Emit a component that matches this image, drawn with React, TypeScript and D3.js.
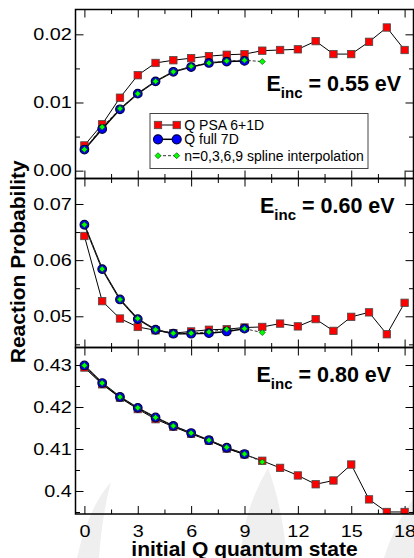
import React, { useEffect, useRef } from "react";
import * as d3 from "d3";

// initial Q quantum states
const statesPSA = [0, 1, 2, 3, 4, 5, 6, 7, 8, 9, 10, 11, 12, 13, 14, 15, 16, 17, 18];
const statesFull = [0, 1, 2, 3, 4, 5, 6, 7, 8, 9];
const statesSpline = [0, 1, 2, 3, 4, 5, 6, 7, 8, 9, 10];

// E_inc = 0.55 eV
const psa055 = [0.0037, 0.0068, 0.0107, 0.014, 0.0158, 0.0162, 0.0165, 0.0168, 0.017, 0.0171, 0.0176, 0.0177, 0.0178, 0.019, 0.0171, 0.0171, 0.0189, 0.021, 0.0177];
const full055 = [0.0031, 0.0061, 0.009, 0.0113, 0.0131, 0.0145, 0.0152, 0.0158, 0.016, 0.0161];
const spline055 = [0.0031, 0.0064, 0.0091, 0.0113, 0.0131, 0.0145, 0.0153, 0.0158, 0.0161, 0.0162, 0.016];

// E_inc = 0.60 eV
const psa060 = [0.0643, 0.0527, 0.0496, 0.0481, 0.0475, 0.047, 0.0473, 0.0476, 0.0477, 0.048, 0.0481, 0.0487, 0.0482, 0.0495, 0.0474, 0.0499, 0.0507, 0.0468, 0.0524];
const full060 = [0.0663, 0.0584, 0.053, 0.0495, 0.0476, 0.0469, 0.0469, 0.047, 0.0473, 0.0478];
const spline060 = [0.0663, 0.0584, 0.053, 0.0496, 0.0476, 0.047, 0.047, 0.0472, 0.0477, 0.0478, 0.0471];

// E_inc = 0.80 eV
const psa080 = [0.4294, 0.4254, 0.4222, 0.4195, 0.4171, 0.4153, 0.4136, 0.412, 0.4101, 0.4087, 0.4072, 0.4055, 0.4037, 0.4016, 0.4025, 0.4063, 0.398, 0.395, 0.395];
const full080 = [0.4299, 0.4257, 0.4224, 0.4198, 0.4175, 0.4155, 0.4138, 0.4121, 0.4103, 0.4088];
const spline080 = [0.4299, 0.4257, 0.4224, 0.4198, 0.4175, 0.4155, 0.4138, 0.4121, 0.4104, 0.4088, 0.4069];

// tick values and labels
const xTicks = [0, 3, 6, 9, 12, 15, 18];
const xTickLabels = ["0", "3", "6", "9", "12", "15", "18"];
const xMinor = [1.5, 4.5, 7.5, 10.5, 13.5, 16.5];

const yTicks055 = [0, 0.01, 0.02];
const yLabels055 = ["0.00", "0.01", "0.02"];
const yMinor055 = [0.005, 0.015];
const yTicks060 = [0.05, 0.06, 0.07];
const yLabels060 = ["0.05", "0.06", "0.07"];
const yMinor060 = [0.045, 0.055, 0.065];
const yTicks080 = [0.4, 0.41, 0.42, 0.43];
const yLabels080 = ["0.4", "0.41", "0.42", "0.43"];
const yMinor080 = [0.395, 0.405, 0.415, 0.425];

const energies = ["0.55", "0.60", "0.80"];
const legendLabels = ["Q PSA 6+1D", "Q full 7D", "n=0,3,6,9 spline interpolation"];

const panels = [
  { psa: psa055, full: full055, spline: spline055, domain: [-0.00115, 0.02364], ticks: yTicks055, labels: yLabels055, minor: yMinor055, energy: energies[0], ex: 266.5, ey: 90.7 },
  { psa: psa060, full: full060, spline: spline060, domain: [0.04444, 0.07454], ticks: yTicks060, labels: yLabels060, minor: yMinor060, energy: energies[1], ex: 260, ey: 213.3 },
  { psa: psa080, full: full080, spline: spline080, domain: [0.39452, 0.43417], ticks: yTicks080, labels: yLabels080, minor: yMinor080, energy: energies[2], ex: 256.5, ey: 381.7 },
];

const W = 414;
const H = 558;
const left = 75.5;
const right = 413.5;
const edges = [9.5, 178.5, 347.5, 514];
const FONT = "'Liberation Sans', Arial, Helvetica, sans-serif";

const diamond = (s: number) => `M0,${-s}L${s},0L0,${s}L${-s},0Z`;

export default function App() {
  const svgRef = useRef<SVGSVGElement>(null);

  useEffect(() => {
    const svg = d3.select(svgRef.current);
    svg.selectAll("*").remove();

    const x = d3.scaleLinear().domain([-0.5, 18.5]).range([left, right]);
    const defs = svg.append("defs");

    // faint watermark shapes behind the plot
    const wm = svg.append("g").attr("fill", "#efefef");
    wm.append("path").attr("d", "M111,482 Q88,508 77,558 L99,558 Q102,515 111,482 Z");
    wm.append("path").attr("d", "M268,468 Q244,508 240,558 L287,558 Q282,505 268,468 Z");
    wm.append("path").attr("d", "M414,498 Q394,525 384,558 L414,558 Z");

    const styleAxis = (g: any, labels: boolean) => {
      g.select(".domain").remove();
      g.selectAll(".tick line").attr("stroke", "#000").attr("stroke-width", 1);
      if (labels) {
        g.selectAll("text")
          .attr("font-size", 16.5)
          .attr("font-family", FONT)
          .attr("fill", "#000")
          .attr("transform", "scale(1.2,1)");
      } else {
        g.selectAll("text").remove();
      }
    };

    panels.forEach((p, i) => {
      const top = edges[i];
      const bottom = edges[i + 1];
      const y = d3.scaleLinear().domain(p.domain).range([bottom, top]);
      const g = svg.append("g");

      // ticks, all four sides, pointing in
      g.append("g")
        .call(d3.axisLeft(y).tickValues(p.ticks).tickFormat((d, k) => p.labels[k]).tickSize(-8).tickPadding(3.2))
        .attr("transform", `translate(${left},0)`)
        .call((a) => styleAxis(a, true));
      g.append("g")
        .call(d3.axisLeft(y).tickValues(p.minor).tickSize(-4.5))
        .attr("transform", `translate(${left},0)`)
        .call((a) => styleAxis(a, false));
      g.append("g")
        .call(d3.axisRight(y).tickValues(p.ticks).tickSize(-8))
        .attr("transform", `translate(${right},0)`)
        .call((a) => styleAxis(a, false));
      g.append("g")
        .call(d3.axisRight(y).tickValues(p.minor).tickSize(-4.5))
        .attr("transform", `translate(${right},0)`)
        .call((a) => styleAxis(a, false));

      const last = i === panels.length - 1;
      g.append("g")
        .call(d3.axisBottom(x).tickValues(xTicks).tickFormat((d, k) => xTickLabels[k]).tickSize(-8).tickPadding(11))
        .attr("transform", `translate(0,${bottom})`)
        .call((a) => styleAxis(a, last));
      g.append("g")
        .call(d3.axisBottom(x).tickValues(xMinor).tickSize(-4.5))
        .attr("transform", `translate(0,${bottom})`)
        .call((a) => styleAxis(a, false));
      g.append("g")
        .call(d3.axisTop(x).tickValues(xTicks).tickSize(-8))
        .attr("transform", `translate(0,${top})`)
        .call((a) => styleAxis(a, false));
      g.append("g")
        .call(d3.axisTop(x).tickValues(xMinor).tickSize(-4.5))
        .attr("transform", `translate(0,${top})`)
        .call((a) => styleAxis(a, false));

      // data
      const clipId = `clip-${i}`;
      defs.append("clipPath").attr("id", clipId)
        .append("rect").attr("x", left).attr("y", top).attr("width", right - left).attr("height", bottom - top);
      const plot = g.append("g").attr("clip-path", `url(#${clipId})`);

      const line = d3.line<[number, number]>().x((d) => x(d[0])).y((d) => y(d[1]));
      const psaPts = statesPSA.map((s, k) => [s, p.psa[k]] as [number, number]);
      const fullPts = statesFull.map((s, k) => [s, p.full[k]] as [number, number]);
      const splPts = statesSpline.map((s, k) => [s, p.spline[k]] as [number, number]);

      plot.append("path").attr("d", line(psaPts)).attr("fill", "none").attr("stroke", "#000").attr("stroke-width", 1);
      plot.selectAll(".sq").data(psaPts).join("rect")
        .attr("x", (d) => x(d[0]) - 3.7).attr("y", (d) => y(d[1]) - 3.7)
        .attr("width", 7.4).attr("height", 7.4)
        .attr("fill", "#ff0000").attr("stroke", "#4a4a4a").attr("stroke-width", 0.8);

      plot.append("path").attr("d", line(fullPts)).attr("fill", "none").attr("stroke", "#000").attr("stroke-width", 1.5);
      plot.selectAll(".ci").data(fullPts).join("circle")
        .attr("cx", (d) => x(d[0])).attr("cy", (d) => y(d[1])).attr("r", 4.3)
        .attr("fill", "#0000ff").attr("stroke", "#000044").attr("stroke-width", 1.2);

      plot.append("path").attr("d", line(splPts)).attr("fill", "none").attr("stroke", "#333")
        .attr("stroke-width", 1).attr("stroke-dasharray", "3,2");
      plot.selectAll(".di").data(splPts).join("path")
        .attr("d", diamond(3))
        .attr("transform", (d) => `translate(${x(d[0])},${y(d[1])})`)
        .attr("fill", "#00ff00").attr("stroke", "#005500").attr("stroke-width", 0.7);

      // frame
      g.append("rect").attr("x", left).attr("y", top).attr("width", right - left).attr("height", bottom - top)
        .attr("fill", "none").attr("stroke", "#000").attr("stroke-width", 1.5);

      // energy label
      const t = g.append("text").attr("x", p.ex).attr("y", p.ey)
        .attr("font-family", FONT).attr("font-weight", "bold").attr("font-size", 21.5).attr("fill", "#000");
      t.append("tspan").text("E");
      t.append("tspan").attr("font-size", 15).attr("dy", 7).text("inc");
      t.append("tspan").attr("dy", -7).text(` = ${p.energy} eV`);
    });

    // legend
    const lg = svg.append("g");
    lg.append("rect").attr("x", 150).attr("y", 113.5).attr("width", 218).attr("height", 55)
      .attr("fill", "#fff").attr("stroke", "#444").attr("stroke-width", 1);
    const rows = [125, 139.3, 155.7];
    const lx0 = 158;
    const lx1 = 176.7;
    rows.forEach((ry, k) => {
      lg.append("line").attr("x1", lx0).attr("x2", lx1).attr("y1", ry).attr("y2", ry)
        .attr("stroke", k === 2 ? "#333" : "#000").attr("stroke-width", k === 1 ? 1.5 : 1)
        .attr("stroke-dasharray", k === 2 ? "3,2" : null);
      [lx0, lx1].forEach((lx) => {
        if (k === 0) {
          lg.append("rect").attr("x", lx - 3.7).attr("y", ry - 3.7).attr("width", 7.4).attr("height", 7.4)
            .attr("fill", "#ff0000").attr("stroke", "#4a4a4a").attr("stroke-width", 0.8);
        } else if (k === 1) {
          lg.append("circle").attr("cx", lx).attr("cy", ry).attr("r", 4.5)
            .attr("fill", "#0000ff").attr("stroke", "#000044").attr("stroke-width", 1.2);
        } else {
          lg.append("path").attr("d", diamond(3)).attr("transform", `translate(${lx},${ry})`)
            .attr("fill", "#00ff00").attr("stroke", "#005500").attr("stroke-width", 0.7);
        }
      });
      lg.append("text").attr("x", 184.3).attr("y", ry).attr("dy", "0.36em")
        .attr("font-family", FONT).attr("font-size", 14).attr("fill", "#000").text(legendLabels[k]);
    });

    // axis titles
    svg.append("text").attr("x", (left + right) / 2).attr("y", 556).attr("text-anchor", "middle")
      .attr("font-family", FONT).attr("font-weight", "bold").attr("font-size", 21).text("initial Q quantum state");
    svg.append("text").attr("transform", `translate(25,${(edges[0] + edges[3]) / 2}) rotate(-90)`)
      .attr("text-anchor", "middle")
      .attr("font-family", FONT).attr("font-weight", "bold").attr("font-size", 21).text("Reaction Probability");
  }, []);

  return (
    <svg ref={svgRef} width={W} height={H} style={{ position: "absolute", left: 0, top: 0, background: "#fff" }} />
  );
}
